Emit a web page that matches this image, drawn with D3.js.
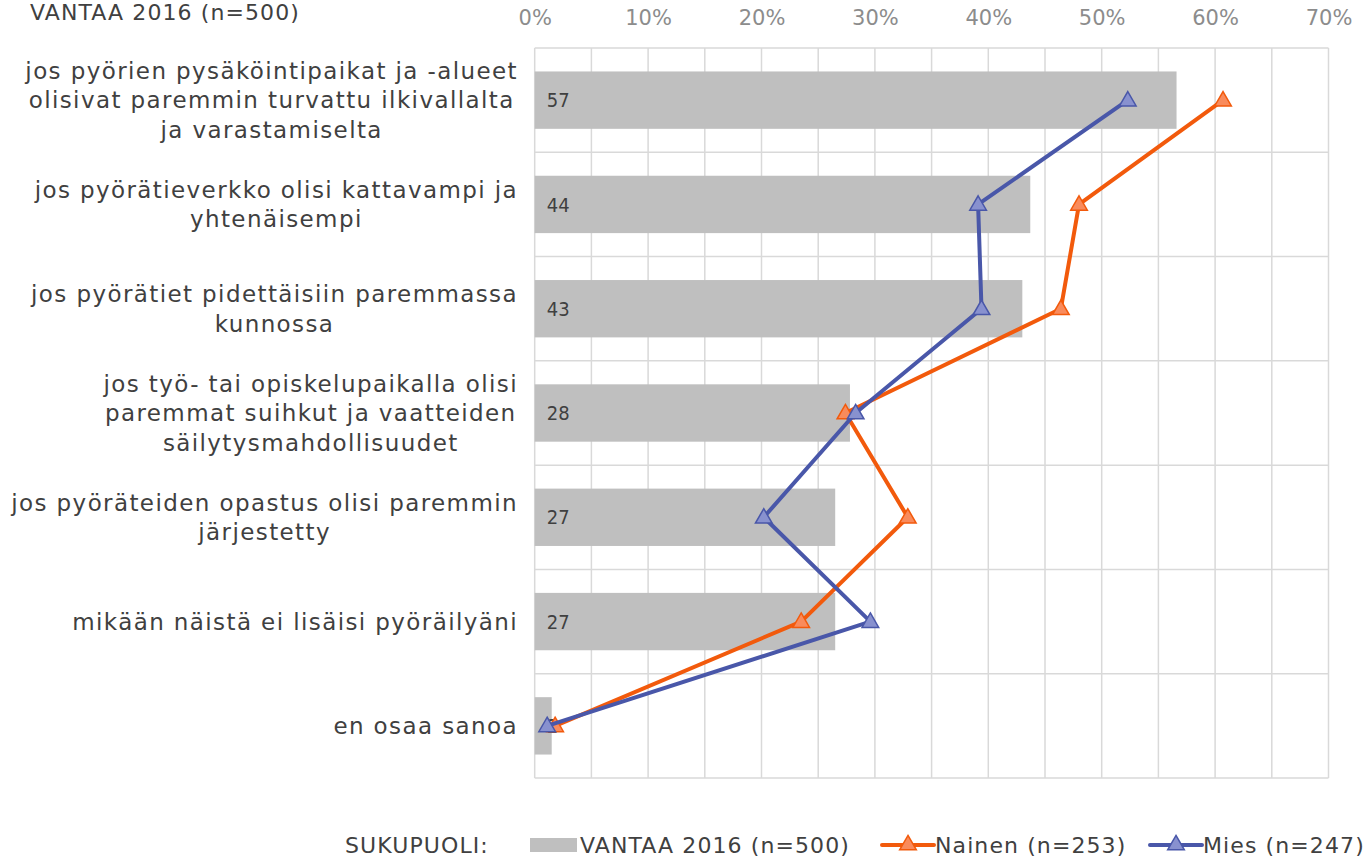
<!DOCTYPE html>
<html>
<head>
<meta charset="utf-8">
<script src="https://cdn.jsdelivr.net/npm/d3@7"></script>
<style>
  body { margin: 0; background: #fff; }
  svg { display: block; }
</style>
</head>
<body>
<svg id="chart" width="1367" height="858"></svg>
<script>
// data
var categories = [
  ["jos pyörien pysäköintipaikat ja -alueet", "olisivat paremmin turvattu ilkivallalta", "ja varastamiselta"],
  ["jos pyörätieverkko olisi kattavampi ja", "yhtenäisempi"],
  ["jos pyörätiet pidettäisiin paremmassa", "kunnossa"],
  ["jos työ- tai opiskelupaikalla olisi", "paremmat suihkut ja vaatteiden", "säilytysmahdollisuudet"],
  ["jos pyöräteiden opastus olisi paremmin", "järjestetty"],
  ["mikään näistä ei lisäisi pyöräilyäni"],
  ["en osaa sanoa"]
];
var totalValues = [56.6, 43.7, 43.0, 27.8, 26.5, 26.5, 1.5];
var totalLabels = ["57", "44", "43", "28", "27", "27", "2"];
var naisetValues = [60.7, 48.0, 46.4, 27.4, 32.9, 23.5, 1.8];
var miehetValues = [52.3, 39.1, 39.4, 28.3, 20.2, 29.6, 1.1];
var ticks = [0, 10, 20, 30, 40, 50, 60, 70];
var seriesNames = ["VANTAA 2016 (n=500)", "Nainen (n=253)", "Mies (n=247)"];

var orange = '#F25A0C', orangeFill = '#F98B5C';
var blue = '#4957A9', blueFill = '#8891CF';
var font = '"DejaVu Sans", Verdana, sans-serif';

var svg = d3.select('#chart');
var idx = d3.range(categories.length);

var x = d3.scaleLinear().domain([0, 70]).range([534.7, 1328.5]);
var y = d3.scaleBand().domain(idx).range([48, 778]).paddingInner(0.45).paddingOuter(0.225);

// gridlines
var grid = svg.append('g');
grid.selectAll('line.v').data(d3.range(0, 71, 5)).join('line')
  .attr('x1', d => x(d)).attr('x2', d => x(d))
  .attr('y1', 48).attr('y2', 778)
  .attr('stroke', '#D9D9D9').attr('stroke-width', 1.5);
grid.selectAll('line.h').data(d3.range(categories.length + 1)).join('line')
  .attr('x1', x(0)).attr('x2', x(70))
  .attr('y1', d => 48 + d * y.step()).attr('y2', d => 48 + d * y.step())
  .attr('stroke', '#D9D9D9').attr('stroke-width', 1.5);

// top axis
var axis = svg.append('g').attr('transform', 'translate(0,28)')
  .call(d3.axisTop(x).tickValues(ticks).tickSize(0).tickFormat(d => d + '%'));
axis.select('.domain').remove();
axis.selectAll('text')
  .attr('font-family', font)
  .attr('font-size', 21).attr('fill', '#8C8C8C').attr('dy', 0);

// bars
svg.append('g').selectAll('rect').data(idx).join('rect')
  .attr('x', x(0)).attr('y', i => y(i))
  .attr('width', i => x(totalValues[i]) - x(0))
  .attr('height', y.bandwidth())
  .attr('fill', '#BFBFBF');

// bar labels
svg.append('g').selectAll('text').data(idx).join('text')
  .attr('x', x(0) + 12).attr('y', i => y(i) + y.bandwidth() / 2)
  .attr('dy', '0.36em')
  .attr('font-family', '"DejaVu Sans Condensed", "DejaVu Sans", sans-serif')
  .attr('font-size', 20).attr('fill', '#404040')
  .text(i => totalLabels[i]);

// lines
var line = d3.line().x(d => x(d.v)).y(d => y(d.i) + y.bandwidth() / 2);
function drawSeries(vals, col, fill) {
  var pts = vals.map((v, i) => ({ v: v, i: i }));
  svg.append('path').datum(pts)
    .attr('d', line).attr('fill', 'none')
    .attr('stroke', col).attr('stroke-width', 4).attr('stroke-linejoin', 'round');
  svg.append('g').selectAll('path').data(pts).join('path')
    .attr('d', d3.symbol(d3.symbolTriangle, 120))
    .attr('transform', d => 'translate(' + x(d.v) + ',' + (y(d.i) + y.bandwidth() / 2 + 1) + ')')
    .attr('fill', fill).attr('stroke', col).attr('stroke-width', 1.5);
}
drawSeries(naisetValues, orange, orangeFill);
drawSeries(miehetValues, blue, blueFill);

// category labels (wrapped, centered block ending at x=518)
var labelG = svg.append('g');
idx.forEach(function(i) {
  var lines = categories[i];
  var cy = y(i) + y.bandwidth() / 2;
  var lh = 29.5;
  var t = labelG.append('text')
    .attr('font-family', font)
    .attr('font-size', 23).attr('letter-spacing', 1.4).attr('fill', '#404040')
    .attr('text-anchor', 'middle');
  var spans = lines.map(function(l, k) {
    return t.append('tspan').attr('y', cy + (k - (lines.length - 1) / 2) * lh).attr('dy', '0.36em').text(l);
  });
  var w = d3.max(spans, s => s.node().getComputedTextLength());
  spans.forEach(s => s.attr('x', 518 - w / 2));
});

// title
svg.append('text').attr('x', 30).attr('y', 20)
  .attr('font-family', font)
  .attr('font-size', 22).attr('letter-spacing', 1.1).attr('fill', '#404040')
  .text('VANTAA 2016  (n=500)');

// legend
var lg = svg.append('g').attr('transform', 'translate(0,845)');
function legendText(xp, txt) {
  lg.append('text').attr('x', xp).attr('dy', '0.36em')
    .attr('font-family', font).attr('font-size', 22).attr('letter-spacing', 1.1).attr('fill', '#404040')
    .text(txt);
}
legendText(345, 'SUKUPUOLI:');
lg.append('rect').attr('x', 530).attr('y', -7).attr('width', 47).attr('height', 14).attr('fill', '#BFBFBF');
legendText(580, seriesNames[0]);
[[882, orange, orangeFill, seriesNames[1]], [1150, blue, blueFill, seriesNames[2]]].forEach(function(s) {
  lg.append('line').attr('x1', s[0]).attr('x2', s[0] + 52).attr('y1', 0).attr('y2', 0)
    .attr('stroke', s[1]).attr('stroke-width', 4).attr('stroke-linecap', 'round');
  lg.append('path').attr('d', d3.symbol(d3.symbolTriangle, 120))
    .attr('transform', 'translate(' + (s[0] + 26) + ',0)')
    .attr('fill', s[2]).attr('stroke', s[1]).attr('stroke-width', 1.5);
  legendText(s[0] + 53, s[3]);
});
</script>
</body>
</html>
